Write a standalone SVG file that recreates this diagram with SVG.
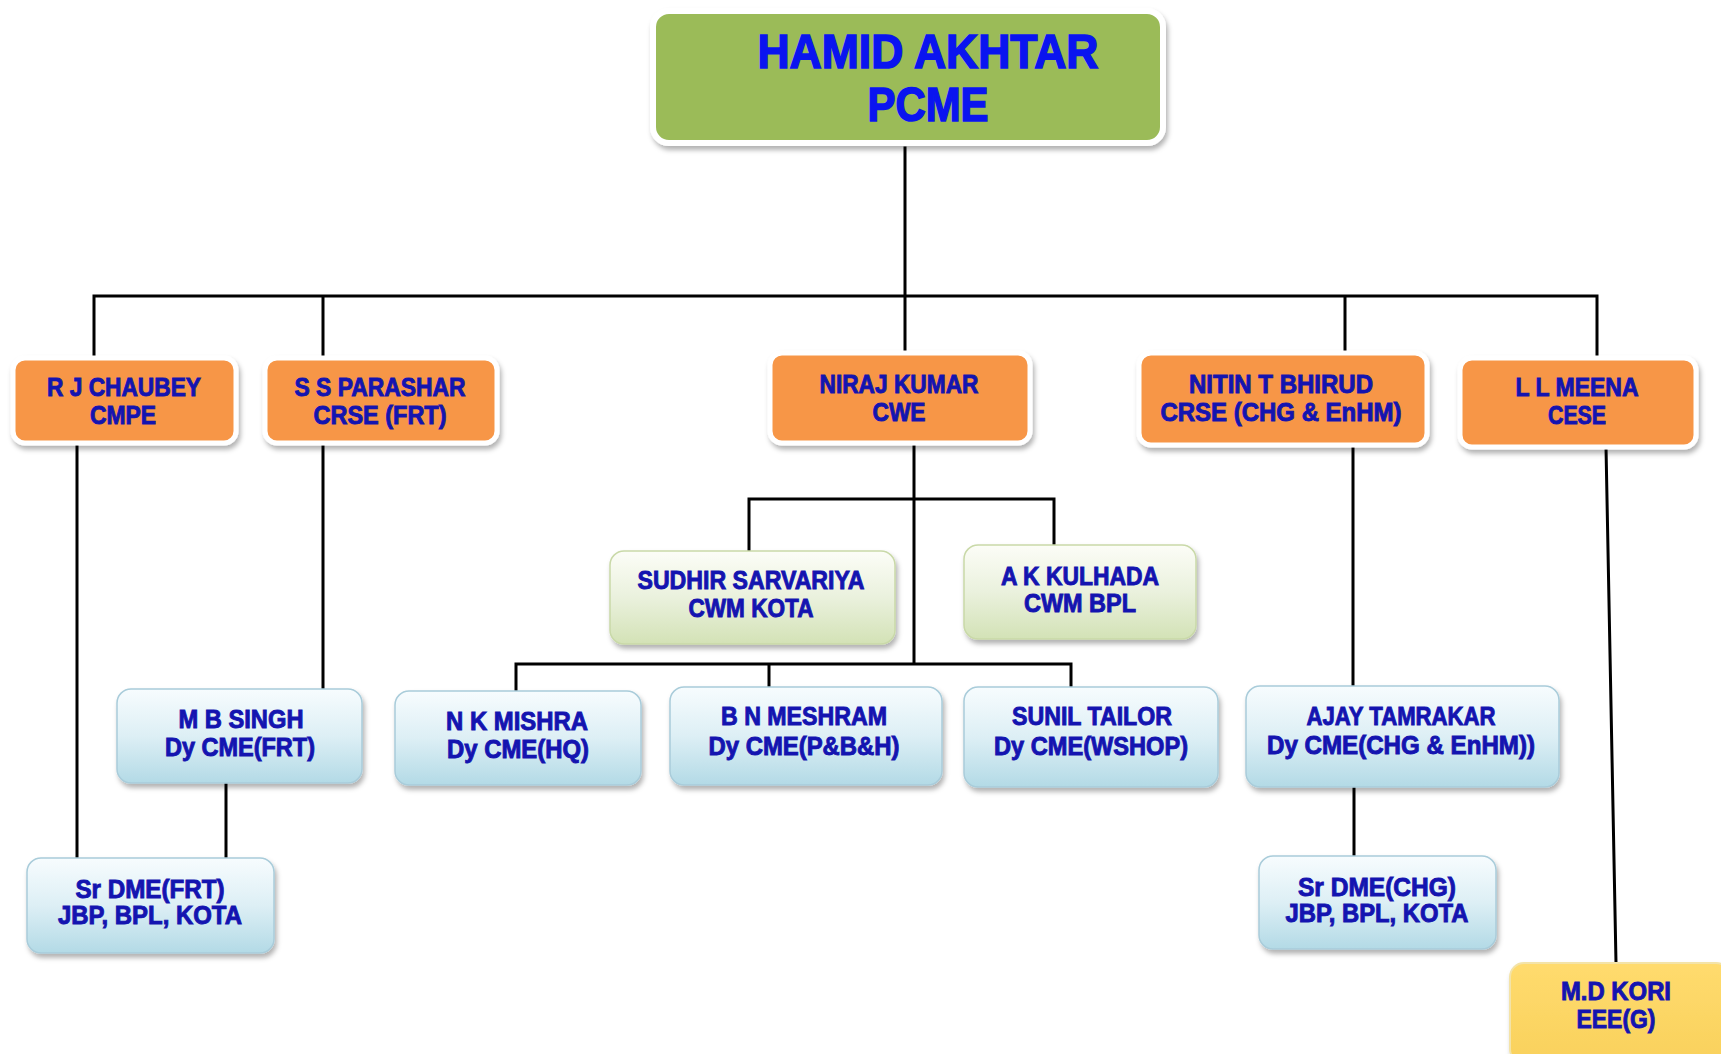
<svg xmlns="http://www.w3.org/2000/svg" width="1721" height="1054" viewBox="0 0 1721 1054">
<defs>
<filter id="sh" x="-10%" y="-10%" width="125%" height="135%">
<feDropShadow dx="2" dy="4" stdDeviation="2.5" flood-color="#000" flood-opacity="0.3"/>
</filter>
<linearGradient id="gBlue" x1="0" y1="0" x2="0" y2="1">
<stop offset="0" stop-color="#F7FCFE"/>
<stop offset="0.5" stop-color="#DDEFF5"/>
<stop offset="1" stop-color="#B3DAE6"/>
</linearGradient>
<linearGradient id="gGreen" x1="0" y1="0" x2="0" y2="1">
<stop offset="0" stop-color="#FCFDF7"/>
<stop offset="0.5" stop-color="#EAF1DD"/>
<stop offset="1" stop-color="#D3E2B6"/>
</linearGradient>
<linearGradient id="gYellow" x1="0" y1="0" x2="0" y2="1">
<stop offset="0" stop-color="#FFDB6E"/>
<stop offset="1" stop-color="#F9D15C"/>
</linearGradient>
</defs>
<style>
.top{fill:#9BBB59;stroke:#FFFFFF;stroke-width:6;filter:url(#sh)}
.org{fill:#F79646;stroke:#FFFFFF;stroke-width:5;filter:url(#sh)}
.blu{fill:url(#gBlue);stroke:#A9CCDA;stroke-width:1.5;filter:url(#sh)}
.grn{fill:url(#gGreen);stroke:#C9D9A8;stroke-width:1.5;filter:url(#sh)}
.yel{fill:url(#gYellow);stroke:#F3E3A8;stroke-width:2;filter:url(#sh)}
text{font-family:"Liberation Sans",Arial,sans-serif;font-weight:bold;text-anchor:middle}
.t1{font-size:49px;fill:#0A14F0;stroke:#0A14F0;stroke-width:1.6}
.t2{font-size:25px;fill:#1414B0;stroke:#1414B0;stroke-width:0.9}
.conn{stroke:#000000;stroke-width:3;fill:none;stroke-linecap:square}
</style>
<rect width="1721" height="1054" fill="#FFFFFF"/>
<g id="connectors">
<path class="conn" d="M905 148V296M94 296H1597M94 296V358M323 296V358M905 296V353M1345 296V353M1597 296V358"/>
<path class="conn" d="M77 445V858M323 445V689M226 783V858"/>
<path class="conn" d="M914 445V664M749 499H1054M749 499V551M1054 499V545M516 664H1071M516 664V691M769 664V687M1071 664V687"/>
<path class="conn" d="M1353 445V686M1354 787V856"/>
<path class="conn" d="M1606 447L1616 963"/>
</g>
<g id="n-hamid">
<rect class="top" x="653" y="11" width="510" height="132" rx="16"/>
<text class="t1" x="928" y="68" textLength="341" lengthAdjust="spacingAndGlyphs">HAMID AKHTAR</text>
<text class="t1" x="928" y="121" textLength="121" lengthAdjust="spacingAndGlyphs">PCME</text>
</g>
<g id="n-chaubey">
<rect class="org" x="13" y="358" width="223" height="85" rx="12"/>
<text class="t2" x="124" y="396" textLength="154" lengthAdjust="spacingAndGlyphs">R J CHAUBEY</text>
<text class="t2" x="123" y="424" textLength="66" lengthAdjust="spacingAndGlyphs">CMPE</text>
</g>
<g id="n-parashar">
<rect class="org" x="265" y="358" width="232" height="85" rx="12"/>
<text class="t2" x="380" y="396" textLength="171" lengthAdjust="spacingAndGlyphs">S S PARASHAR</text>
<text class="t2" x="380" y="424" textLength="133" lengthAdjust="spacingAndGlyphs">CRSE (FRT)</text>
</g>
<g id="n-niraj">
<rect class="org" x="770" y="353" width="260" height="90" rx="12"/>
<text class="t2" x="899" y="393" textLength="159" lengthAdjust="spacingAndGlyphs">NIRAJ KUMAR</text>
<text class="t2" x="899" y="421" textLength="53" lengthAdjust="spacingAndGlyphs">CWE</text>
</g>
<g id="n-nitin">
<rect class="org" x="1139" y="353" width="288" height="92" rx="12"/>
<text class="t2" x="1281" y="393" textLength="184" lengthAdjust="spacingAndGlyphs">NITIN T BHIRUD</text>
<text class="t2" x="1281" y="421" textLength="241" lengthAdjust="spacingAndGlyphs">CRSE (CHG &amp; EnHM)</text>
</g>
<g id="n-meena">
<rect class="org" x="1460" y="358" width="236" height="89" rx="12"/>
<text class="t2" x="1577" y="396" textLength="123" lengthAdjust="spacingAndGlyphs">L L MEENA</text>
<text class="t2" x="1577" y="424" textLength="58" lengthAdjust="spacingAndGlyphs">CESE</text>
</g>
<g id="n-sudhir">
<rect class="grn" x="610" y="551" width="285" height="93" rx="14"/>
<text class="t2" x="751" y="589" textLength="227" lengthAdjust="spacingAndGlyphs">SUDHIR SARVARIYA</text>
<text class="t2" x="751" y="617" textLength="125" lengthAdjust="spacingAndGlyphs">CWM KOTA</text>
</g>
<g id="n-kulhada">
<rect class="grn" x="964" y="545" width="232" height="94" rx="14"/>
<text class="t2" x="1080" y="585" textLength="158" lengthAdjust="spacingAndGlyphs">A K KULHADA</text>
<text class="t2" x="1080" y="612" textLength="112" lengthAdjust="spacingAndGlyphs">CWM BPL</text>
</g>
<g id="n-mbsingh">
<rect class="blu" x="117" y="689" width="245" height="94" rx="14"/>
<text class="t2" x="241" y="728" textLength="125" lengthAdjust="spacingAndGlyphs">M B SINGH</text>
<text class="t2" x="240" y="756" textLength="150" lengthAdjust="spacingAndGlyphs">Dy CME(FRT)</text>
</g>
<g id="n-nkmishra">
<rect class="blu" x="395" y="691" width="246" height="94" rx="14"/>
<text class="t2" x="517" y="730" textLength="142" lengthAdjust="spacingAndGlyphs">N K MISHRA</text>
<text class="t2" x="518" y="758" textLength="142" lengthAdjust="spacingAndGlyphs">Dy CME(HQ)</text>
</g>
<g id="n-bnmeshram">
<rect class="blu" x="670" y="687" width="272" height="98" rx="14"/>
<text class="t2" x="804" y="725" textLength="166" lengthAdjust="spacingAndGlyphs">B N MESHRAM</text>
<text class="t2" x="804" y="755" textLength="191" lengthAdjust="spacingAndGlyphs">Dy CME(P&amp;B&amp;H)</text>
</g>
<g id="n-sunil">
<rect class="blu" x="964" y="687" width="254" height="100" rx="14"/>
<text class="t2" x="1092" y="725" textLength="160" lengthAdjust="spacingAndGlyphs">SUNIL TAILOR</text>
<text class="t2" x="1091" y="755" textLength="194" lengthAdjust="spacingAndGlyphs">Dy CME(WSHOP)</text>
</g>
<g id="n-ajay">
<rect class="blu" x="1246" y="686" width="313" height="101" rx="14"/>
<text class="t2" x="1401" y="725" textLength="189" lengthAdjust="spacingAndGlyphs">AJAY TAMRAKAR</text>
<text class="t2" x="1401" y="754" textLength="268" lengthAdjust="spacingAndGlyphs">Dy CME(CHG &amp; EnHM))</text>
</g>
<g id="n-srdmefrt">
<rect class="blu" x="27" y="858" width="247" height="95" rx="14"/>
<text class="t2" x="150" y="898" textLength="149" lengthAdjust="spacingAndGlyphs">Sr DME(FRT)</text>
<text class="t2" x="150" y="924" textLength="184" lengthAdjust="spacingAndGlyphs">JBP, BPL, KOTA</text>
</g>
<g id="n-srdmechg">
<rect class="blu" x="1259" y="856" width="237" height="93" rx="14"/>
<text class="t2" x="1377" y="896" textLength="158" lengthAdjust="spacingAndGlyphs">Sr DME(CHG)</text>
<text class="t2" x="1377" y="922" textLength="183" lengthAdjust="spacingAndGlyphs">JBP, BPL, KOTA</text>
</g>
<g id="n-mdkori">
<rect class="yel" x="1510" y="963" width="220" height="100" rx="14"/>
<text class="t2" x="1616" y="1000" textLength="110" lengthAdjust="spacingAndGlyphs">M.D KORI</text>
<text class="t2" x="1616" y="1028" textLength="79" lengthAdjust="spacingAndGlyphs">EEE(G)</text>
</g>
</svg>
